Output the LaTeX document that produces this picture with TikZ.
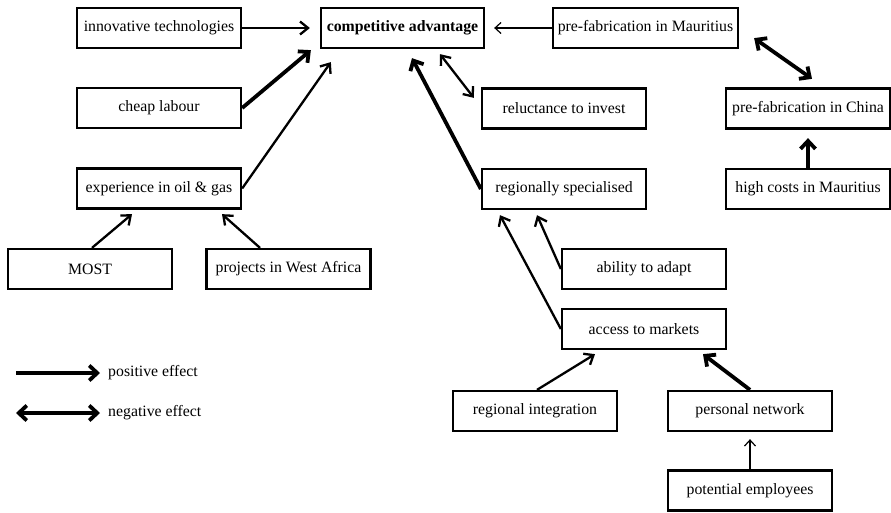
\documentclass[tikz,border=0pt]{standalone}
\usepackage{fontspec}
\setmainfont{Liberation Serif}
\usetikzlibrary{arrows.meta}
\begin{document}
\begin{tikzpicture}[x=1pt,y=1pt,
  box/.style={draw,line width=2.3pt,minimum width=164pt,minimum height=40pt,inner sep=2pt,
    font=\fontsize{15.8}{18}\selectfont},
  thinarr/.style={line width=1.2pt,-{Straight Barb[length=6pt,width=11pt]}},
  medarr/.style={line width=2.3pt,-{Straight Barb[length=8pt,width=13pt]}},
  thickarr/.style={line width=3.8pt,-{Straight Barb[length=8pt,width=15pt]}},
  medboth/.style={line width=2.3pt,{Straight Barb[length=8pt,width=13pt]}-{Straight Barb[length=8pt,width=13pt]}},
  thickboth/.style={line width=3.8pt,{Straight Barb[length=8pt,width=15pt]}-{Straight Barb[length=8pt,width=15pt]}},
  legtext/.style={anchor=west,inner sep=0pt,font=\fontsize{15.8}{18}\selectfont}
]
\useasboundingbox (0,0) rectangle (891,512);
\node[box] (inno) at (159,484) {innovative technologies};
\node[box,minimum width=163pt,font=\fontsize{15.8}{18}\selectfont\bfseries] (comp) at (402.5,484) {competitive advantage};
\node[box] (cheap) at (159,404) {cheap labour};
\node[box] (exper) at (159,323.5) {experience in oil \& gas};
\node[box] (relu) at (564,403.5) {reluctance to invest};
\node[box] (regspec) at (564,323) {regionally specialised};
\node[box,minimum width=185pt] (pfm) at (645.5,484) {pre-fabrication in Mauritius};
\node[box] (pfc) at (808,403.5) {pre-fabrication in China};
\node[box] (high) at (808,323) {high costs in Mauritius};
\node[box] (most) at (90,243) {MOST};
\node[box] (proj) at (288.5,243) {projects in West Africa};
\node[box] (adapt) at (644,243) {ability to adapt};
\node[box] (access) at (644,183) {access to markets};
\node[box] (regint) at (535,101) {regional integration};
\node[box] (pers) at (750,101) {personal network};
\node[box] (pot) at (750,21.5) {potential employees};

\draw[medarr] (inno.east) -- ([xshift=-10pt]comp.west);
\draw[thickarr] (cheap.east) -- ([shift={(-9pt,-1pt)}]comp.south west);
\draw[medarr] (exper.east) -- ([shift={(11pt,-13pt)}]comp.south west);
\draw[thickarr] (regspec.west) -- ([shift={(9.5pt,-9pt)}]comp.south);
\draw[medboth] ([shift={(37.5pt,-5pt)}]comp.south) -- ([shift={(-7pt,-10.5pt)}]relu.north west);
\draw[thinarr] (pfm.west) -- ([xshift=9pt]comp.east);
\draw[thickboth] ([shift={(15pt,11pt)}]pfm.south east) -- ([shift={(4pt,8.5pt)}]pfc.north);
\draw[thickarr] (high.north) -- ([yshift=-8.5pt]pfc.south);
\draw[medarr] ([xshift=2pt]most.north) -- ([shift={(-27pt,-4.5pt)}]exper.south);
\draw[medarr] ([xshift=-28.5pt]proj.north) -- ([shift={(63pt,-4.5pt)}]exper.south);
\draw[medarr] (access.west) -- ([shift={(-64pt,-5pt)}]regspec.south);
\draw[medarr] (adapt.west) -- ([shift={(-27pt,-5pt)}]regspec.south);
\draw[medarr] ([xshift=2pt]regint.north) -- ([shift={(-49pt,-4pt)}]access.south);
\draw[thickarr] (pers.north) -- ([shift={(59pt,-4pt)}]access.south);
\draw[thinarr] (pot.north) -- ([yshift=-7pt]pers.south);

\coordinate (pa) at (16,139);
\node[legtext] (ptext) at (108,139) {positive effect};
\draw[thickarr] (pa) -- ([xshift=-8pt]ptext.west);
\coordinate (na) at (16,99);
\node[legtext] (ntext) at (108,99) {negative effect};
\draw[thickboth] (na) -- ([xshift=-8pt]ntext.west);
\end{tikzpicture}
\end{document}
